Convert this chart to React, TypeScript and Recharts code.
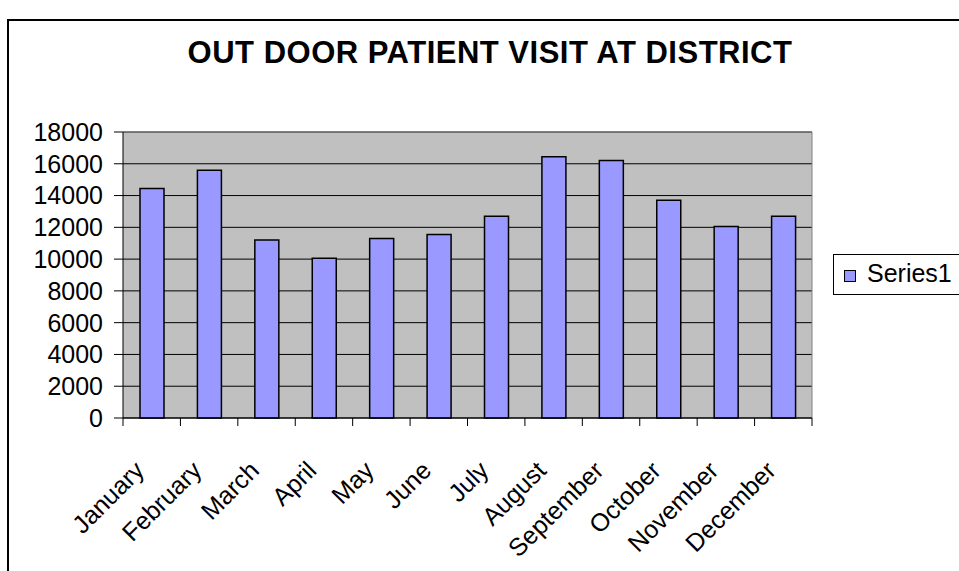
import {
  Bar,
  BarChart,
  CartesianGrid,
  ReferenceLine,
  XAxis,
  YAxis,
} from 'recharts';

const months = [
  'January',
  'February',
  'March',
  'April',
  'May',
  'June',
  'July',
  'August',
  'September',
  'October',
  'November',
  'December',
];

const series1 = [
  14450, 15600, 11200, 10050, 11300, 11550, 12700, 16450, 16200, 13700,
  12050, 12700,
];

const yTicks = [0, 2000, 4000, 6000, 8000, 10000, 12000, 14000, 16000, 18000];

const chartData = months.map((month, i) => ({
  month,
  value: series1[i],
}));

const FONT = '"Liberation Sans", Arial, sans-serif';

// category labels plus the tick marks that sit between categories
const MonthTick = (props: any) => {
  const { x, y, payload, index, visibleTicksCount, width } = props;
  const count = visibleTicksCount || months.length;
  const band = (width || 689) / count;
  const left = x - band / 2;
  const right = x + band / 2;
  const ax = x - 6;
  const ay = y + 54;
  return (
    <g>
      <line x1={left} y1={y} x2={left} y2={y + 8} stroke="#000" />
      {index === count - 1 && (
        <line x1={right} y1={y} x2={right} y2={y + 8} stroke="#000" />
      )}
      <text
        x={ax}
        y={ay}
        transform={`rotate(-45, ${ax}, ${ay})`}
        textAnchor="end"
        fontSize={25}
        fontFamily={FONT}
        fill="#000"
      >
        {payload.value}
      </text>
    </g>
  );
};

export default function App() {
  return (
    <div
      style={{
        position: 'absolute',
        left: 0,
        top: 0,
        width: 959,
        height: 571,
        overflow: 'hidden',
        background: '#fff',
        fontFamily: FONT,
      }}
    >
      <div
        style={{
          position: 'absolute',
          left: 7,
          top: 19,
          width: 1000,
          height: 700,
          border: '2px solid #000',
        }}
      />
      <div
        style={{
          position: 'absolute',
          left: 90,
          top: 37,
          width: 800,
          textAlign: 'center',
          fontSize: 31,
          lineHeight: '31px',
          fontWeight: 'bold',
          letterSpacing: 0.5,
          color: '#000',
        }}
      >
        OUT DOOR PATIENT VISIT AT DISTRICT
      </div>

      <div style={{ position: 'absolute', left: 0, top: 0 }}>
        <BarChart
          width={959}
          height={571}
          data={chartData}
          margin={{ top: 132, right: 147, left: 0, bottom: 0 }}
        >
          <CartesianGrid
            vertical={false}
            stroke="#000"
            strokeWidth={1}
            fill="#C0C0C0"
            fillOpacity={1}
          />
          <XAxis
            dataKey="month"
            interval={0}
            height={153}
            tickLine={false}
            tickSize={0}
            tickMargin={0}
            axisLine={{ stroke: '#000' }}
            tick={<MonthTick />}
          />
          <YAxis
            width={123}
            domain={[0, 18000]}
            ticks={yTicks}
            interval={0}
            tickSize={9}
            tickMargin={11}
            axisLine={{ stroke: '#000' }}
            tickLine={{ stroke: '#000' }}
            tick={{ fill: '#000', fontSize: 25, fontFamily: FONT }}
          />
          <ReferenceLine y={18000} stroke="#808080" />
          <ReferenceLine x="December" position="end" stroke="#808080" />
          <Bar
            dataKey="value"
            fill="#9999FF"
            stroke="#000"
            strokeWidth={1.5}
            barSize={24}
            isAnimationActive={false}
          />
        </BarChart>
      </div>

      <div
        style={{
          position: 'absolute',
          left: 833,
          top: 254,
          width: 140,
          height: 41,
          border: '1px solid #000',
          boxSizing: 'border-box',
        }}
      >
        <div
          style={{
            position: 'absolute',
            left: 10,
            top: 15,
            width: 12,
            height: 12,
            background: '#9999FF',
            border: '1px solid #000',
            boxSizing: 'border-box',
          }}
        />
        <div
          style={{
            position: 'absolute',
            left: 33,
            top: 6,
            fontSize: 25,
            lineHeight: '25px',
            color: '#000',
            whiteSpace: 'nowrap',
          }}
        >
          Series1
        </div>
      </div>
    </div>
  );
}
